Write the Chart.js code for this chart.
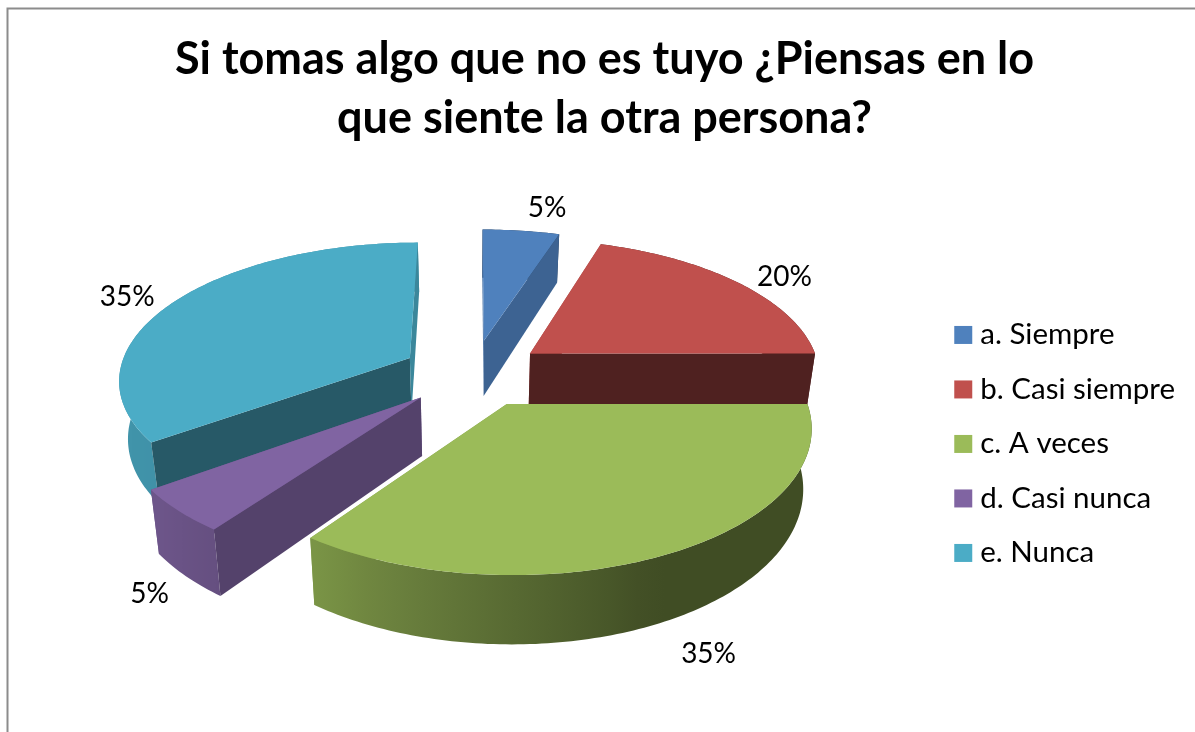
<!DOCTYPE html>
<html><head><meta charset="utf-8">
<style>html,body{margin:0;padding:0;background:#fff;overflow:hidden}canvas{display:block}</style>
<script src="https://cdn.jsdelivr.net/npm/chart.js@4"></script>
</head><body><canvas id="c" width="1195" height="732"></canvas>
<script>
const chartTitle = ['Si tomas algo que no es tuyo ¿Piensas en lo', 'que siente la otra persona?'];
const categories = ['a. Siempre', 'b. Casi siempre', 'c. A veces', 'd. Casi nunca', 'e. Nunca'];
const values = [5, 20, 35, 5, 35];
const colors = ['#4F81BD', '#C0504D', '#9BBB59', '#8064A2', '#4BACC6'];

// 3D look of the Excel pie
const view = {tilt: 0.468, persp: 2000, depth: 57, shrink: 0.975, centerY: 373};
const labelNudge = [[26,-23],[46,-6],[39,100],[-29,83],[-47,-5]];
const wallShadeRadial = [[0,.86],[108,.77],[126,.66],[144,.52],[180,.41],[270,.86],[360,.86]];
const wallShadeOuter = [[0,.41],[155,.41],[216,.79],[234,.85],[270,.86],[360,.86]];

function lookup(tbl, d){
  d = ((d % 360) + 360) % 360;
  for (let i = 1; i < tbl.length; i++) {
    if (d <= tbl[i][0]) {
      const t = (d - tbl[i-1][0]) / (tbl[i][0] - tbl[i-1][0]);
      return tbl[i-1][1] + t * (tbl[i][1] - tbl[i-1][1]);
    }
  }
  return tbl[tbl.length-1][1];
}
function shade(hex, k){
  const n = parseInt(hex.slice(1), 16);
  return `rgb(${Math.round((n>>16&255)*k)},${Math.round((n>>8&255)*k)},${Math.round((n&255)*k)})`;
}
function project(cx, u, v, low){
  const f = 1 / (1 + v / view.persp);
  const s = low ? view.shrink : 1;
  return [cx + u * f * s, view.centerY - view.tilt * v * f + (low ? view.depth * f : 0)];
}
function poly(ctx, pts, col){
  ctx.beginPath();
  pts.forEach((p, i) => i ? ctx.lineTo(p[0], p[1]) : ctx.moveTo(p[0], p[1]));
  ctx.closePath();
  ctx.fillStyle = col;
  ctx.fill();
}
const RAD = Math.PI / 180;

const pie3d = {
  id: 'pie3d',
  afterLayout(chart){
    // the title stays centred on the plot frame, not on the space left of the legend padding
    chart.titleBlock.right += 14;
  },
  beforeDraw(chart){
    const ctx = chart.ctx;
    ctx.save();
    ctx.fillStyle = '#fff';
    ctx.fillRect(0, 0, chart.width, chart.height);
    ctx.strokeStyle = '#8c8c8c';
    ctx.lineWidth = 2;
    ctx.beginPath();
    ctx.moveTo(1195, 8.5);
    ctx.lineTo(7.5, 8.5);
    ctx.lineTo(7.5, 732);
    ctx.stroke();
    ctx.restore();
  },
  beforeDatasetDraw(chart, args){
    const ctx = chart.ctx;
    const arcs = chart.getDatasetMeta(args.index).data;
    const slices = arcs.map((el, i) => {
      const a0 = el.startAngle + Math.PI / 2, a1 = el.endAngle + Math.PI / 2;
      const mid = (a0 + a1) / 2, off = el.options.offset;
      return {i, a0, a1, mid, R: el.outerRadius, cx: el.x,
        ou: Math.sin(mid) * off, ov: Math.cos(mid) * off, off};
    });
    const order = slices.slice().sort((p, q) => q.ov + q.R * Math.cos(q.mid) - p.ov - p.R * Math.cos(p.mid));
    ctx.save();
    order.forEach(s => {
      const base = colors[s.i];
      const step = 1 * RAD;
      const rim = (a, low) => project(s.cx, s.ou + s.R * Math.sin(a), s.ov + s.R * Math.cos(a), low);
      const apexT = project(s.cx, s.ou, s.ov, false), apexB = project(s.cx, s.ou, s.ov, true);
      const walls = [
        {a: s.a0, n: s.a0 - Math.PI / 2},
        {a: s.a1, n: s.a1 + Math.PI / 2}
      ].map(w => ({pts: [apexT, rim(w.a,false), rim(w.a,true), apexB],
        front: Math.cos(w.n) < 1e-6, col: shade(base, lookup(wallShadeRadial, w.n / RAD))}));
      walls.filter(w => !w.front).forEach(w => poly(ctx, w.pts, w.col));
      // outer wall: one shape, shaded across its width
      const up = [], down = [];
      for (let a = s.a0; a < s.a1; a += step) { up.push(rim(a,false)); down.push(rim(a,true)); }
      up.push(rim(s.a1,false)); down.push(rim(s.a1,true));
      const g0 = Math.max(s.a0, 90 * RAD), g1 = Math.min(s.a1, 270 * RAD);
      let fill = shade(base, lookup(wallShadeOuter, s.mid / RAD));
      if (g1 > g0) {
        const xa = rim(g0,true)[0], xb = rim(g1,true)[0];
        const grad = ctx.createLinearGradient(xa, 0, xb, 0);
        for (let k = 0; k <= 24; k++) {
          const a = g0 + (g1 - g0) * k / 24;
          grad.addColorStop(Math.min(1, Math.max(0, (rim(a,true)[0] - xa) / (xb - xa))), shade(base, lookup(wallShadeOuter, a / RAD)));
        }
        fill = grad;
      }
      poly(ctx, up.concat(down.reverse()), fill);
      walls.filter(w => w.front).forEach(w => poly(ctx, w.pts, w.col));
      // top face
      const top = [apexT];
      for (let a = s.a0; a < s.a1; a += step) top.push(rim(a, false));
      top.push(rim(s.a1, false));
      poly(ctx, top, base);
    });
    // data labels
    ctx.fillStyle = '#000';
    ctx.font = '28px Lato';
    ctx.textAlign = 'center';
    ctx.textBaseline = 'middle';
    slices.forEach(s => {
      const p = project(s.cx, s.ou + s.R * Math.sin(s.mid), s.ov + s.R * Math.cos(s.mid), false);
      ctx.fillText(values[s.i] + '%', p[0] + labelNudge[s.i][0], p[1] + labelNudge[s.i][1]);
    });
    ctx.restore();
    return false;
  }
};

new Chart(document.getElementById('c'), {
  type: 'pie',
  data: {labels: categories, datasets: [{data: values, backgroundColor: colors, borderWidth: 0, offset: 72, radius: 291}]},
  plugins: [pie3d],
  options: {
    responsive: false,
    animation: false,
    layout: {padding: {left: 10, right: 10, top: 0, bottom: 4}},
    plugins: {
      tooltip: {enabled: false},
      title: {display: true, text: chartTitle, color: '#000',
        font: {family: 'Lato', size: 45, weight: 'bold', lineHeight: 1.31},
        padding: {top: 30, bottom: 12}},
      legend: {position: 'right', fullSize: false,
        labels: {color: '#000', font: {family: 'Lato', size: 29.5}, boxWidth: 4.5, boxHeight: 18,
          usePointStyle: true, pointStyle: 'rect', padding: 25}}
    }
  }
});
</script></body></html>
